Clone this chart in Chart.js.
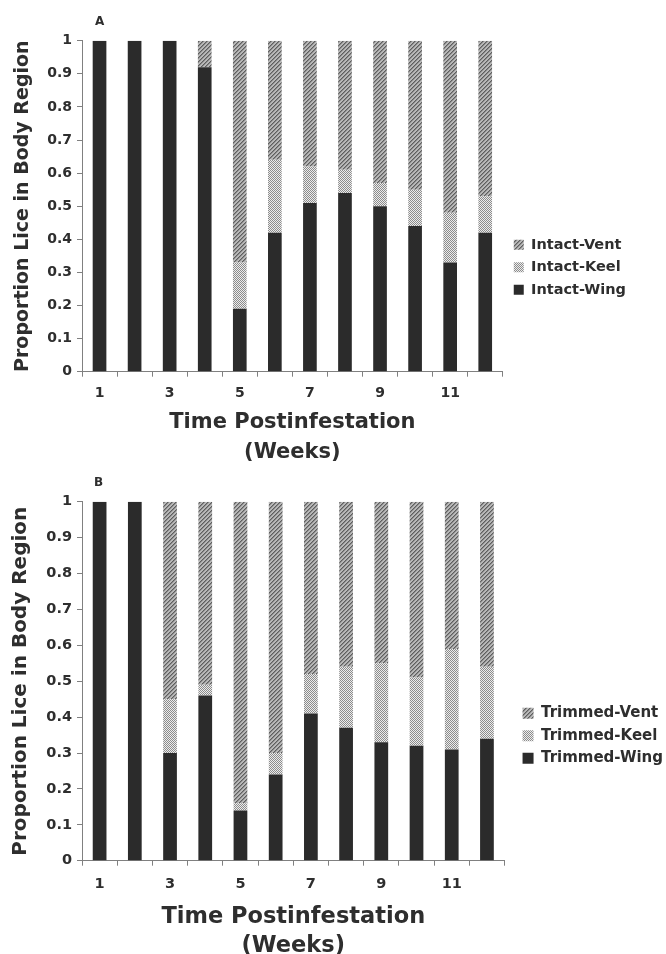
<!DOCTYPE html>
<html><head><meta charset="utf-8">
<script src="https://cdn.jsdelivr.net/npm/chart.js@4.4.1/dist/chart.umd.min.js"></script>
<style>
html,body{margin:0;padding:0;background:#fff;overflow:hidden;width:666px;height:954px;position:relative}
#wrapA{position:absolute;left:0;top:0;width:666px;height:470px}
#wrapB{position:absolute;left:0;top:470px;width:680px;height:500px}
.panel{position:absolute;font:bold 12px "DejaVu Sans";line-height:14px;color:#2e2e2e}
</style></head><body>
<div id="wrapA"><canvas id="cA" width="666" height="470"></canvas></div>
<div id="wrapB"><canvas id="cB" width="680" height="500"></canvas></div>
<div class="panel" style="left:95px;top:14px">A</div>
<div class="panel" style="left:94px;top:475px">B</div>
<script>
// ---- data ----
const weeks = ['1','2','3','4','5','6','7','8','9','10','11','12'];
const shownWeekLabels = ['1','3','5','7','9','11'];
const yTickValues = [0,0.1,0.2,0.3,0.4,0.5,0.6,0.7,0.8,0.9,1];

const intactWing = [1,1,1,0.92,0.19,0.42,0.51,0.54,0.50,0.44,0.33,0.42];
const intactKeel = [0,0,0,0,0.14,0.22,0.11,0.07,0.07,0.11,0.15,0.11];
const intactVent = [0,0,0,0.08,0.67,0.36,0.38,0.39,0.43,0.45,0.52,0.47];

const trimmedWing = [1,1,0.30,0.46,0.14,0.24,0.41,0.37,0.33,0.32,0.31,0.34];
const trimmedKeel = [0,0,0.15,0.03,0.02,0.06,0.11,0.17,0.22,0.19,0.28,0.20];
const trimmedVent = [0,0,0.55,0.51,0.84,0.70,0.48,0.46,0.45,0.49,0.41,0.46];

const seriesNamesA = ['Intact-Wing','Intact-Keel','Intact-Vent'];
const seriesNamesB = ['Trimmed-Wing','Trimmed-Keel','Trimmed-Vent'];
const xTitle = ['Time Postinfestation','(Weeks)'];
const yTitle = 'Proportion Lice in Body Region';

// ---- patterns ----
function ventPattern(){
  const c=document.createElement('canvas');c.width=4;c.height=4;
  const g=c.getContext('2d');
  g.fillStyle='#b8b8b8';g.fillRect(0,0,4,4);
  g.fillStyle='#5e5e5e';
  for(let i=0;i<4;i++){g.fillRect(i,3-i,1,1);}
  g.fillStyle='#8a8a8a';
  for(let i=0;i<4;i++){g.fillRect(i,(4-i)%4,1,1);}
  return g.createPattern(c,'repeat');
}
function keelPattern(){
  const c=document.createElement('canvas');c.width=2;c.height=2;
  const g=c.getContext('2d');
  g.fillStyle='#ececec';g.fillRect(0,0,2,2);
  g.fillStyle='#8c8c8c';g.fillRect(0,0,1,1);g.fillRect(1,1,1,1);
  return g.createPattern(c,'repeat');
}
const WING='#2b2b2b';
const TXT='#2e2e2e';
const AX='#808080';
const FAM='"DejaVu Sans", Verdana, sans-serif';

function makeChart(id, names, wing, keel, vent, cfg){
  return new Chart(document.getElementById(id), {
    type:'bar',
    data:{
      labels: weeks,
      datasets:[
        {label:names[0], data:wing, backgroundColor:WING, borderWidth:0},
        {label:names[1], data:keel, backgroundColor:keelPattern(), borderWidth:0},
        {label:names[2], data:vent, backgroundColor:ventPattern(), borderWidth:0}
      ]
    },
    options:{
      responsive:false, animation:false, devicePixelRatio:1,
      layout:{padding:{left:0,top:cfg.padTop,right:cfg.padRight,bottom:0}},
      datasets:{bar:{categoryPercentage:1, barPercentage:0.39}},
      plugins:{
        tooltip:{enabled:false},
        legend:{
          position:'right', reverse:true, maxWidth:400,
          title: cfg.legendShift ? {display:true, text:' ', padding:6, font:{size:10}} : {display:false},
          labels:{boxWidth:cfg.box, boxHeight:cfg.box, padding:cfg.legPad, color:TXT,
            font:{family:FAM, size:cfg.legFont, weight:'bold'}}
        }
      },
      scales:{
        x:{
          stacked:true,
          grid:{display:true, offset:true, drawOnChartArea:false, drawTicks:true, tickLength:5, color:AX, lineWidth:1},
          border:{display:true, color:AX, width:1},
          ticks:{autoSkip:false, maxRotation:0, color:TXT, padding:cfg.xTickPad,
            font:{family:FAM, size:cfg.tickFont, weight:'bold'},
            callback:function(v){const l=this.getLabelForValue(v);return shownWeekLabels.includes(l)?l:'';}},
          title:{display:true, text:xTitle, color:TXT,
            font:{family:FAM, size:cfg.xTitleFont, weight:'bold', lineHeight:cfg.xTitleLH},
            padding:{top:0,bottom:cfg.xTitlePadB}},
          afterFit:function(s){s.height=cfg.xAxisH;}
        },
        y:{
          stacked:true, min:0, max:1,
          afterBuildTicks:function(s){s.ticks=yTickValues.map(v=>({value:v}));},
          grid:{display:true, drawOnChartArea:false, drawTicks:true, tickLength:5, color:AX, lineWidth:1},
          border:{display:true, color:AX, width:1},
          ticks:{color:TXT, padding:5, font:{family:FAM, size:cfg.tickFont, weight:'bold'},
            callback:function(v){return String(Math.round(v*10)/10);}},
          title:{display:true, text:yTitle, color:TXT,
            font:{family:FAM, size:cfg.yTitleFont, weight:'bold'},
            padding:{top:cfg.yTitlePadT,bottom:0}},
          afterFit:function(s){s.width=82;}
        },
        gap:{
          position:'right', display:true, type:'linear',
          grid:{display:false}, border:{display:false}, ticks:{display:false},
          afterFit:function(s){s.width=cfg.gap;}
        }
      }
    }
  });
}

makeChart('cA', seriesNamesA, intactWing, intactKeel, intactVent, {
  padTop:40.7, padRight:30, legendShift:true, box:10, legPad:8, legFont:14.5,
  tickFont:14, xTickPad:8, xTitleFont:21, xTitleLH:'30px', xTitlePadB:2, xAxisH:98.3,
  yTitleFont:19, yTitlePadT:11.8, gap:3
});
makeChart('cB', seriesNamesB, trimmedWing, trimmedKeel, trimmedVent, {
  padTop:31.7, padRight:7, legendShift:false, box:11, legPad:7.5, legFont:15,
  tickFont:14.5, xTickPad:10, xTitleFont:22.5, xTitleLH:'29px', xTitlePadB:9.5, xAxisH:109.3,
  yTitleFont:20, yTitlePadT:8.6, gap:10.5
});
</script>
</body></html>
